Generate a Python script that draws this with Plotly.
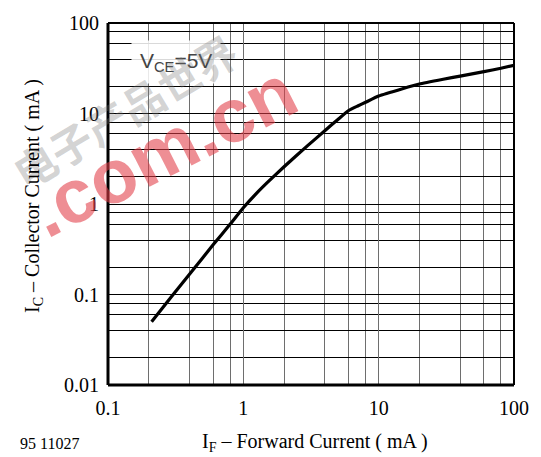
import plotly.graph_objects as go

# Data (log-log)
if_ma = [0.21, 0.3, 0.4, 0.6, 0.8, 1, 1.25, 1.5, 2, 3, 4, 5, 6, 7, 8, 10, 15, 20, 30, 40, 60, 80, 100]
ic_ma = [0.05, 0.098, 0.167, 0.356, 0.6, 0.91, 1.31, 1.72, 2.58, 4.44, 6.46, 8.6, 10.8, 12.1, 13.3,
         15.6, 18.8, 21.2, 23.9, 25.9, 29.0, 31.6, 34.1]

x_major = [0.1, 1, 10, 100]
x_labels = ["0.1", "1", "10", "100"]
y_major = [0.01, 0.1, 1, 10, 100]
y_labels = ["0.01", "0.1", "1", "10", "100"]
x_minor = [m * d for d in [0.1, 1, 10] for m in [2, 4, 6, 8]]
y_minor = [m * d for d in [0.01, 0.1, 1, 10] for m in [2, 4, 6, 8]]

serif = "Liberation Serif, Times New Roman, serif"
sans = "Liberation Sans, Arial, sans-serif"

fig = go.Figure()
fig.add_trace(go.Scatter(x=if_ma, y=ic_ma, mode="lines",
                         line=dict(color="black", width=3.2, shape="spline", smoothing=0.4),
                         showlegend=False, hoverinfo="skip"))

fig.update_layout(
    width=541, height=457,
    margin=dict(l=108, r=23, t=15, b=72),
    paper_bgcolor="white", plot_bgcolor="white",
    showlegend=False,
    xaxis=dict(type="log", range=[-1, 2], tickmode="array", tickvals=x_major, ticktext=x_labels,
               showgrid=True, gridcolor="#6e6e6e", gridwidth=1,
               minor=dict(tickvals=x_minor, showgrid=True, gridcolor="#6e6e6e", gridwidth=1, ticks=""),
               ticks="", showline=False, zeroline=False,
               tickfont=dict(family=serif, size=20, color="black"), ticklabelstandoff=9),
    yaxis=dict(type="log", range=[-2, 2], tickmode="array", tickvals=y_major, ticktext=y_labels,
               showgrid=True, gridcolor="black", gridwidth=1,
               minor=dict(tickvals=y_minor, showgrid=True, gridcolor="black", gridwidth=1, ticks=""),
               ticks="", showline=False, zeroline=False,
               tickfont=dict(family=serif, size=20, color="black"), ticklabelstandoff=8),
)

# frame
fig.add_shape(type="line", xref="paper", yref="paper", x0=0, x1=0, y0=0, y1=1, line=dict(color="black", width=3))
fig.add_shape(type="line", xref="paper", yref="paper", x0=0, x1=1, y0=0, y1=0, line=dict(color="black", width=3))
fig.add_shape(type="line", xref="paper", yref="paper", x0=0, x1=1, y0=1, y1=1, line=dict(color="black", width=2))
fig.add_shape(type="line", xref="paper", yref="paper", x0=1, x1=1, y0=0, y1=1, line=dict(color="black", width=2))

# label with white halo (as in the reference)
fig.add_annotation(xref="paper", yref="paper", x=(131 - 108) / 410, y=(385 - 55) / 370,
                   xanchor="left", yanchor="middle", text="V<sub>CE</sub>=5V", showarrow=False,
                   bgcolor="rgba(255,255,255,0.85)", borderpad=8,
                   font=dict(family=sans, size=21, color="#444444"))

# watermark
fig.add_annotation(xref="paper", yref="paper", x=(124 - 108) / 410, y=(385 - 104) / 370,
                   xanchor="center", yanchor="middle",
                   text="<b>电子产品世界</b>", showarrow=False, textangle=-31,
                   font=dict(family="Noto Sans CJK SC", size=42, color="rgba(120,120,120,0.32)"))
fig.add_annotation(xref="paper", yref="paper", x=(163 - 108) / 410, y=(385 - 145) / 370,
                   xanchor="center", yanchor="middle",
                   text="<b>.com.cn</b>", showarrow=False, textangle=-27,
                   font=dict(family=sans, size=76, color="rgba(225,60,70,0.58)"))

# axis titles and figure number
fig.add_annotation(xref="paper", yref="paper", x=(317 - 108) / 410, y=(385 - 444) / 370,
                   xanchor="center", yanchor="middle",
                   text="I<sub>F</sub> – Forward Current ( mA )", showarrow=False,
                   font=dict(family=serif, size=20, color="black"))
fig.add_annotation(xref="paper", yref="paper", x=(32 - 108) / 410, y=(385 - 192) / 370,
                   xanchor="center", yanchor="middle", textangle=-90,
                   text="I<sub>C</sub> – Collector Current ( mA )", showarrow=False,
                   font=dict(family=serif, size=20, color="black"))
fig.add_annotation(xref="paper", yref="paper", x=(17 - 108) / 410, y=(385 - 445) / 370,
                   xanchor="left", yanchor="middle", text="95 11027", showarrow=False,
                   font=dict(family=serif, size=16, color="black"))

fig.write_html("out.html", config={"displayModeBar": False},
               post_script="document.body.style.margin='0px';document.body.style.overflow='hidden';")
